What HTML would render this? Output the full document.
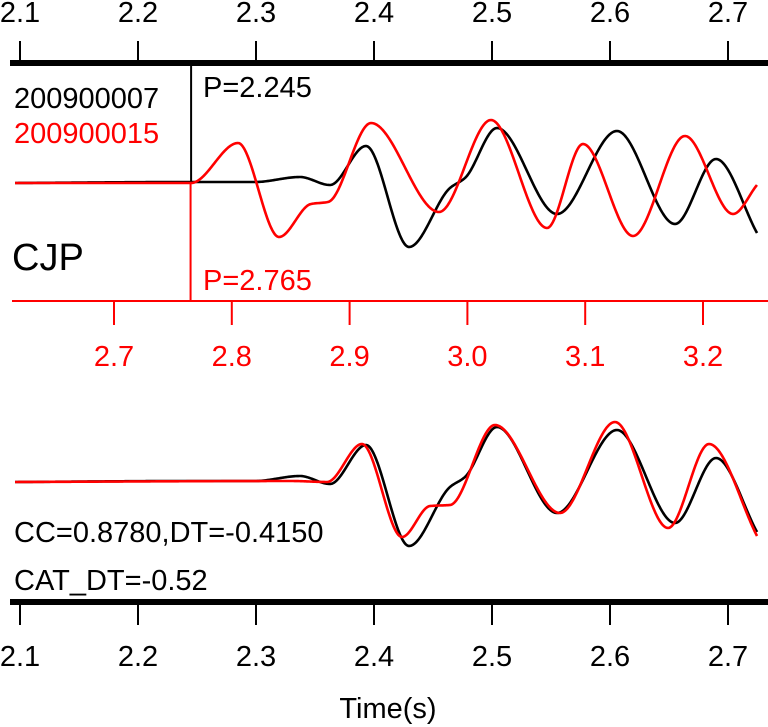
<!DOCTYPE html>
<html><head><meta charset="utf-8"><style>
body{margin:0;background:#fff}
svg{display:block;font-family:"Liberation Sans",sans-serif}
</style></head><body>
<svg id="c" width="768" height="727" viewBox="0 0 768 727"></svg>
<script>
// Black trace (top time axis), amplitudes
const blackTimes=[2.0958,2.2449,2.2992,2.3373,2.3627,2.3932,2.4297,2.4644,2.4771,2.5042,2.5551,2.6059,2.6551,2.6898,2.7246];
const blackAmps=[0,0.01,0.01,0.06,-0.02,0.37,-0.64,-0.05,0.05,0.55,-0.31,0.52,-0.41,0.24,-0.50];
// Red trace top (red time axis)
const redTimes=[2.616,2.7654,2.8053,2.8401,2.8672,2.8817,2.9182,2.9759,3.0200,3.0676,3.0981,3.1406,3.1847,3.2255,3.2458];
const redAmps=[0,0,0.40,-0.54,-0.21,-0.19,0.60,-0.29,0.63,-0.45,0.39,-0.53,0.47,-0.31,-0.02];
// Red trace shifted (bottom, top time axis)
const shiftTimes=[2.0958,2.33,2.3602,2.3898,2.4237,2.4475,2.4644,2.5025,2.5576,2.6042,2.6492,2.6839,2.7246];
const shiftAmps=[0,0.01,0,0.38,-0.55,-0.24,-0.23,0.57,-0.31,0.60,-0.46,0.38,-0.54];
const topTicks=[2.1,2.2,2.3,2.4,2.5,2.6,2.7];
const redTicks=[2.7,2.8,2.9,3.0,3.1,3.2];

const NS="http://www.w3.org/2000/svg";
const svg=document.getElementById('c');
const xTop=t=>20+(t-2.1)*1180;
const xRed=t=>114+(t-2.7)*1178;
const yAmp=(base,a)=>base-a*100;
function el(tag,attrs,parent){const e=document.createElementNS(NS,tag);for(const k in attrs)e.setAttribute(k,attrs[k]);(parent||svg).appendChild(e);return e;}
function txt(s,x,y,size,fill,anchor,name){const e=el('text',{x:x,y:y,'font-size':size,fill:fill,'text-anchor':anchor||'start'});e.textContent=s;


return e;}
function mono(xs,ys){const n=xs.length,d=[],m=new Array(n);
for(let i=0;i<n-1;i++)d.push((ys[i+1]-ys[i])/(xs[i+1]-xs[i]));
m[0]=d[0];m[n-1]=d[n-2];
for(let i=1;i<n-1;i++){if(d[i-1]*d[i]<=0)m[i]=0;else{const h0=xs[i]-xs[i-1],h1=xs[i+1]-xs[i];const w1=2*h1+h0,w2=h1+2*h0;m[i]=(w1+w2)/(w1/d[i-1]+w2/d[i]);}}
return t=>{let i=0;while(i<n-2&&t>xs[i+1])i++;const h=xs[i+1]-xs[i],s=(t-xs[i])/h;
const h00=2*s*s*s-3*s*s+1,h10=s*s*s-2*s*s+s,h01=-2*s*s*s+3*s*s,h11=s*s*s-s*s;
return h00*ys[i]+h10*h*m[i]+h01*ys[i+1]+h11*h*m[i+1];};}
function trace(times,amps,xf,base,color,name){const f=mono(times,amps);const t0=times[0],t1=times[times.length-1];let p='';
for(let k=0;k<=600;k++){const t=t0+(t1-t0)*k/600;p+=(k?'L':'M')+xf(t).toFixed(2)+','+yAmp(base,f(t)).toFixed(2);}
const e=el('path',{d:p,fill:'none',stroke:color,'stroke-width':2.6,'stroke-linejoin':'round'});

}

// top axis
const ta=el('rect',{x:10,y:60,width:758,height:6,fill:'#000'});


topTicks.forEach(t=>{const l=el('line',{x1:xTop(t),x2:xTop(t),y1:41,y2:61,stroke:'#000','stroke-width':2});


txt(t.toFixed(1),xTop(t),22,29,'#000','middle','top-axis-label');});
// bottom axis
const ba=el('rect',{x:10,y:599,width:758,height:6,fill:'#000'});


topTicks.forEach(t=>{const l=el('line',{x1:xTop(t),x2:xTop(t),y1:604,y2:625,stroke:'#000','stroke-width':2});


txt(t.toFixed(1),xTop(t),666,29,'#000','middle','bottom-axis-label');});
// red axis
const ra=el('line',{x1:12,x2:768,y1:301,y2:301,stroke:'#f00','stroke-width':2});


redTicks.forEach(t=>{const l=el('line',{x1:xRed(t),x2:xRed(t),y1:301,y2:325,stroke:'#f00','stroke-width':2});


txt(t.toFixed(1),xRed(t),366,29,'#f00','middle','red-axis-label');});
// pick lines
const pb=el('line',{x1:xTop(2.245),x2:xTop(2.245),y1:66,y2:183,stroke:'#000','stroke-width':2});


const pr=el('line',{x1:xRed(2.765),x2:xRed(2.765),y1:183,y2:301,stroke:'#f00','stroke-width':2});


// traces
trace(blackTimes,blackAmps,xTop,183,'#000','black-trace-top');
trace(redTimes,redAmps,xRed,183,'#f00','red-trace-top');
trace(blackTimes,blackAmps,xTop,482,'#000','black-trace-bottom');
trace(shiftTimes,shiftAmps,xTop,482,'#f00','red-trace-aligned');
// labels
txt('200900007',14,108,29,'#000','start','black-event-id');
txt('200900015',14,143,29,'#f00','start','red-event-id');
txt('P=2.245',203,97,29,'#000','start','black-pick-label');
txt('CJP',12,270,38,'#000','start','station-label');
txt('P=2.765',203,290,29,'#f00','start','red-pick-label');
txt('CC=0.8780,DT=-0.4150',14,542,29,'#000','start','cc-dt-label');
txt('CAT_DT=-0.52',14,590,29,'#000','start','cat-dt-label');
txt('Time(s)',388,718,29,'#000','middle','x-axis-title');
</script>
</body></html>
